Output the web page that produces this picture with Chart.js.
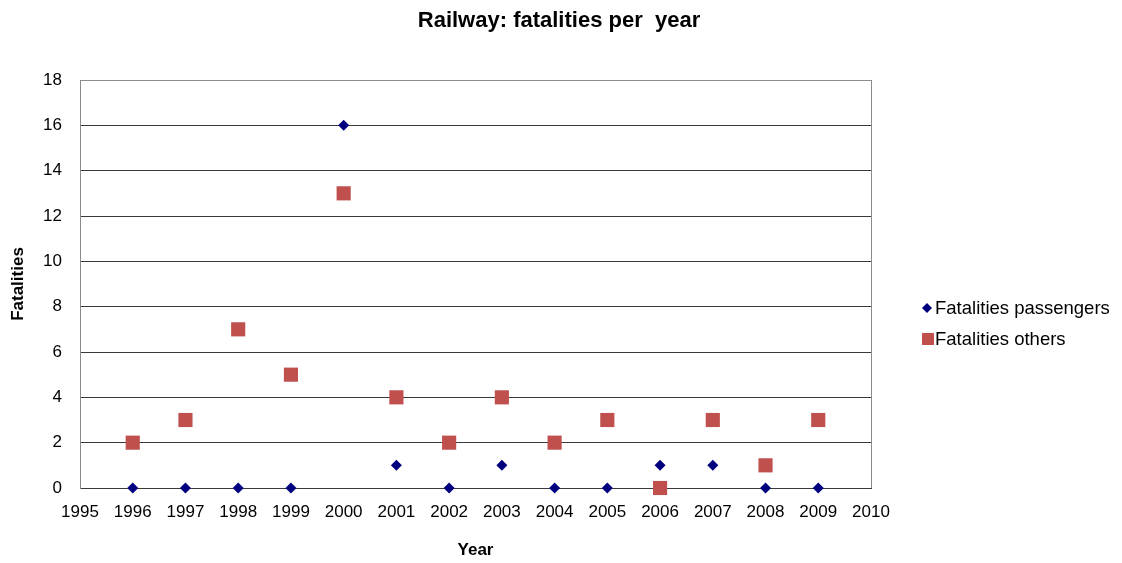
<!DOCTYPE html>
<html>
<head>
<meta charset="utf-8">
<script src="https://cdn.jsdelivr.net/npm/chart.js@4"></script>
<style>
  html, body { margin: 0; padding: 0; background: #fff; }
  #wrap { width: 1122px; height: 563px; }
</style>
</head>
<body>
<div id="wrap"><canvas id="chart"></canvas></div>
<script>
const years = [1996, 1997, 1998, 1999, 2000, 2001, 2002, 2003, 2004, 2005, 2006, 2007, 2008, 2009];
const passengers = [0, 0, 0, 0, 16, 1, 0, 1, 0, 0, 1, 1, 0, 0];
const others = [2, 3, 7, 5, 13, 4, 2, 4, 2, 3, 0, 3, 1, 3];
const seriesNames = ['Fatalities passengers', 'Fatalities others'];
const chartTitle = 'Railway: fatalities per  year';

const navy = '#00007f';
const red = '#c0504d';
const gridDark = '#3a3a3a';
const frameGray = '#8c8c8c';
const font = 'Arial, "Liberation Sans", sans-serif';

// title over the whole page + legend on the right, drawn like the old excel one
const decor = {
  id: 'decor',
  afterDraw(chart) {
    const ctx = chart.ctx;
    ctx.save();
    ctx.textBaseline = 'middle';
    ctx.fillStyle = '#000';
    ctx.textAlign = 'center';
    ctx.font = 'bold 22px ' + font;
    ctx.fillText(chartTitle, 559, 21);

    ctx.textAlign = 'left';
    ctx.font = '18.5px ' + font;
    // diamond
    const y0 = 308;
    ctx.fillStyle = navy;
    ctx.beginPath();
    ctx.moveTo(927, y0 - 5);
    ctx.lineTo(932, y0);
    ctx.lineTo(927, y0 + 5);
    ctx.lineTo(922, y0);
    ctx.closePath();
    ctx.fill();
    ctx.fillStyle = '#000';
    ctx.fillText(seriesNames[0], 935, y0 + 1);
    // square
    const y1 = 339;
    ctx.fillStyle = red;
    ctx.fillRect(922, y1 - 6, 12, 12);
    ctx.fillStyle = '#000';
    ctx.fillText(seriesNames[1], 935, y1 + 1);
    ctx.restore();
  }
};

new Chart(document.getElementById('chart').getContext('2d'), {
  type: 'scatter',
  data: {
    datasets: [{
      label: seriesNames[0],
      data: years.map((y, i) => ({ x: y, y: passengers[i] })),
      pointStyle: 'rectRot',
      radius: 5.5,
      backgroundColor: navy,
      borderColor: navy,
      borderWidth: 0,
      clip: false
    }, {
      label: seriesNames[1],
      data: years.map((y, i) => ({ x: y, y: others[i] })),
      pointStyle: 'rect',
      radius: 10,
      backgroundColor: red,
      borderColor: red,
      borderWidth: 0,
      clip: false
    }]
  },
  options: {
    responsive: true,
    maintainAspectRatio: false,
    animation: false,
    layout: { padding: { left: 0, right: 251, top: 80, bottom: 0 } },
    plugins: {
      legend: { display: false },
      tooltip: { enabled: false },
      title: { display: false }
    },
    scales: {
      x: {
        type: 'linear',
        min: 1995,
        max: 2010,
        afterFit: s => { s.height = 75; },
        ticks: {
          stepSize: 1,
          color: '#000',
          font: { family: font, size: 17 },
          padding: 14,
          maxRotation: 0,
          autoSkip: false,
          callback: v => String(v)
        },
        grid: {
          drawTicks: false,
          color: c => (c.tick && (c.tick.value === 1995 || c.tick.value === 2010)) ? frameGray : 'rgba(0,0,0,0)'
        },
        border: { color: gridDark, width: 1 },
        title: {
          display: true,
          text: 'Year',
          color: '#000',
          font: { family: font, size: 17, weight: 'bold' },
          padding: { top: 0, bottom: 2 }
        }
      },
      y: {
        min: 0,
        max: 18,
        afterFit: s => { s.width = 80; },
        ticks: {
          stepSize: 2,
          color: '#000',
          font: { family: font, size: 17 },
          padding: 18
        },
        grid: {
          drawTicks: false,
          color: c => (c.tick && c.tick.value === 18) ? frameGray : gridDark
        },
        border: { color: frameGray, width: 1 },
        title: {
          display: true,
          text: 'Fatalities',
          color: '#000',
          font: { family: font, size: 17, weight: 'bold' },
          padding: { top: 8, bottom: 0 }
        }
      }
    }
  },
  plugins: [decor]
});
</script>
</body>
</html>
